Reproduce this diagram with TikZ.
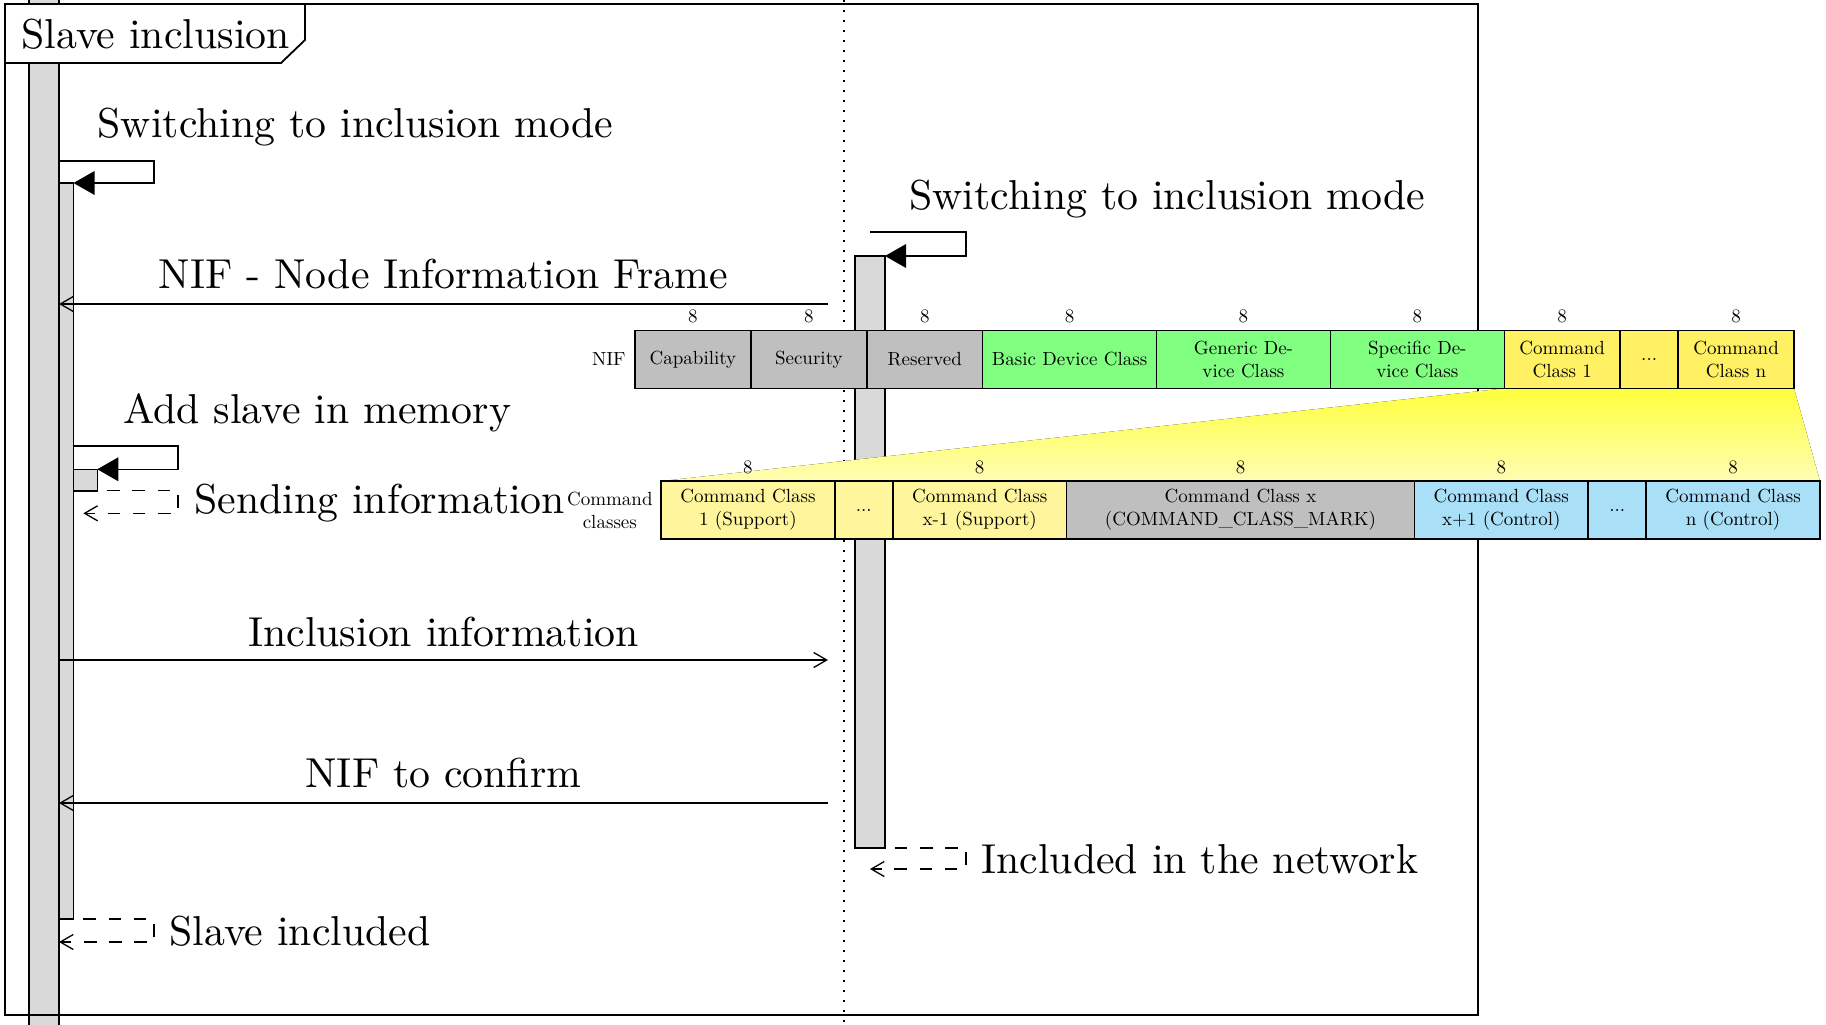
\documentclass[tikz,border=0pt]{standalone}
\usepackage{graphicx}
\usetikzlibrary{arrows.meta,calc}
\definecolor{barfill}{HTML}{D9D9D9}
\definecolor{cellgray}{HTML}{BFBFBF}
\definecolor{cellgreen}{HTML}{80FF80}
\definecolor{cellyellow}{HTML}{FFF064}
\definecolor{cellpale}{HTML}{FFF59D}
\definecolor{cellblue}{HTML}{A9DFF7}
\definecolor{gradtop}{HTML}{FFFF3C}
\definecolor{gradbot}{HTML}{FFFDB4}
\newcommand{\BigTxt}[1]{\scalebox{2.09}{#1}}
\tikzset{
  barbox/.style={draw, line width=0.75pt, fill=barfill, inner sep=0pt, outer sep=0pt},
  bigtxt/.style={inner sep=0pt, font=\fontsize{10}{12}\selectfont},
  smalltxt/.style={inner sep=0pt, font=\fontsize{9.5}{11.5}\selectfont},
  cell/.style={draw, line width=0.75pt, inner sep=0pt, outer sep=0pt, minimum height=28.9pt, align=center, anchor=west, font=\fontsize{9.5}{11.5}\selectfont},
  callarrow/.style={line width=0.75pt, -{Triangle[length=10.5pt,width=11.8pt]}},
  msgarrow/.style={line width=0.65pt, -{Straight Barb[length=6.5pt,width=7.5pt]}},
  retarrow/.style={line width=0.65pt, dash pattern=on 6.3pt off 6.3pt, dash phase=7.7pt, -{Straight Barb[length=6.5pt,width=7.5pt]}},
  lifeline/.style={line width=1pt, dash pattern=on 1pt off 4pt},
}
\begin{document}
\begin{tikzpicture}[x=0.5pt,y=-0.5pt]
\useasboundingbox (0,0) rectangle (1826,1024);
\clip (0,0) rectangle (1826,1024);
% lifelines and activations
\node[barbox, minimum width=15pt, minimum height=530pt] (thread) at (44,515) {};
\coordinate (lltop) at (843.5,-10);
\coordinate (llbot) at (843.5,1040);
\draw[lifeline] (lltop) -- (llbot);
\node[barbox, minimum width=7.25pt, minimum height=368pt] (act) at (66.25,551) {};
\node[barbox, minimum width=15pt, minimum height=296pt] (ract) at (870,552) {};
\node[barbox, minimum width=11.9pt, minimum height=10.75pt] (mem) at (85.4,480) {};
% frame
\node[draw, line width=0.9pt, inner sep=0pt, outer sep=0pt, minimum width=736.5pt, minimum height=505.5pt] (frame) at (741.5,509.5) {};
\draw[line width=0.9pt, fill=white] (5,4) -- (305,4) -- (305,40) -- (281,63) -- (5,63) -- cycle;
\node[bigtxt, anchor=base west] (title) at (21,48) {\BigTxt{Slave inclusion}};
% self call left: switching
\coordinate (c1a) at (59,161);
\coordinate (c1b) at (154,161);
\coordinate (c1c) at (154,183);
\draw[callarrow] (c1a) -- (c1b) -- (c1c) -- (act.north east);
\node[bigtxt, anchor=base west] (t1) at (97.3,137) {\BigTxt{Switching to inclusion mode}};
% self call right: switching
\coordinate (c2a) at (870,232);
\coordinate (c2b) at (966,232);
\coordinate (c2c) at (966,256);
\draw[callarrow] (c2a) -- (c2b) -- (c2c) -- (ract.north east);
\node[bigtxt, anchor=base west] (t2) at (909,209) {\BigTxt{Switching to inclusion mode}};
% NIF message
\coordinate (m1r) at (828,304);
\coordinate (m1l) at (59,304);
\draw[msgarrow] (m1r) -- (m1l);
\node[bigtxt, anchor=base] (t3) at (443.5,288) {\BigTxt{NIF - Node Information Frame}};
% add slave in memory
\coordinate (c3a) at (73.5,446);
\coordinate (c3b) at (178,446);
\coordinate (c3c) at (178,469.25);
\draw[callarrow] (c3a) -- (c3b) -- (c3c) -- (mem.north east);
\node[bigtxt, anchor=base west] (t4) at (122.6,423) {\BigTxt{Add slave in memory}};
\coordinate (r1b) at (178,490.75);
\coordinate (r1c) at (178,513.3);
\coordinate (r1d) at (83.3,513.3);
\draw[retarrow] (mem.south east) -- (r1b) -- (r1c) -- (r1d);
\node[bigtxt, anchor=base west] (t5) at (194,513) {\BigTxt{Sending information}};
% inclusion information
\coordinate (m2l) at (59,660);
\coordinate (m2r) at (828,660);
\draw[msgarrow] (m2l) -- (m2r);
\node[bigtxt, anchor=base] (t6) at (443.5,646) {\BigTxt{Inclusion information}};
% NIF to confirm
\coordinate (m3r) at (828,803);
\coordinate (m3l) at (59,803);
\draw[msgarrow] (m3r) -- (m3l);
\node[bigtxt, anchor=base] (t7) at (443.5,787) {\BigTxt{NIF to confirm}};
% included in the network
\coordinate (r2b) at (966,848);
\coordinate (r2c) at (966,869);
\coordinate (r2d) at (870,869);
\draw[retarrow] (ract.south east) -- (r2b) -- (r2c) -- (r2d);
\node[bigtxt, anchor=base west] (t8) at (981,873) {\BigTxt{Included in the network}};
% slave included
\coordinate (r3b) at (154,919);
\coordinate (r3c) at (154,942);
\coordinate (r3d) at (59,942);
\draw[retarrow] (act.south east) -- (r3b) -- (r3c) -- (r3d);
\node[bigtxt, anchor=base west] (t9) at (169,945) {\BigTxt{Slave included}};
% NIF table
\coordinate (row1) at (635,359.5);
\coordinate (row2) at (661,510);
\fill[top color=gradtop, bottom color=gradbot]
  ($(row1)+(15*57.95,28.9)$) -- ($(row1)+(20*57.95,28.9)$) --
  ($(row2)+(20*57.95,-28.9)$) -- ($(row2)+(0,-28.9)$) -- cycle;
\node[cell, fill=cellgray, minimum width=57.95pt] (n1) at (row1) {Capability};
\node[cell, fill=cellgray, minimum width=57.95pt] (n2) at (n1.east) {Security};
\node[cell, fill=cellgray, minimum width=57.95pt] (n3) at (n2.east) {Reserved};
\node[cell, fill=cellgreen, minimum width=86.925pt] (n4) at (n3.east) {Basic Device Class};
\node[cell, fill=cellgreen, minimum width=86.925pt] (n5) at (n4.east) {Generic De-\\vice Class};
\node[cell, fill=cellgreen, minimum width=86.925pt] (n6) at (n5.east) {Specific De-\\vice Class};
\node[cell, fill=cellyellow, minimum width=57.95pt] (n7) at (n6.east) {Command\\Class 1};
\node[cell, fill=cellyellow, minimum width=28.975pt] (n8) at (n7.east) {...};
\node[cell, fill=cellyellow, minimum width=57.95pt] (n9) at (n8.east) {Command\\Class n};
\node[smalltxt, anchor=east] (nifl) at ([xshift=-4.5pt]n1.west) {NIF};
\foreach \c in {n1,n2,n3,n4,n5,n6,n7,n9}
  \node[smalltxt, anchor=south] at ([yshift=3.85pt]\c.north) {8};
\node[cell, fill=cellpale, minimum width=86.925pt] (d1) at (row2) {Command Class\\1 (Support)};
\node[cell, fill=cellpale, minimum width=28.975pt] (d2) at (d1.east) {...};
\node[cell, fill=cellpale, minimum width=86.925pt] (d3) at (d2.east) {Command Class\\x-1 (Support)};
\node[cell, fill=cellgray, minimum width=173.85pt] (d4) at (d3.east) {Command Class x\\(COMMAND\_CLASS\_MARK)};
\node[cell, fill=cellblue, minimum width=86.925pt] (d5) at (d4.east) {Command Class\\x+1 (Control)};
\node[cell, fill=cellblue, minimum width=28.975pt] (d6) at (d5.east) {...};
\node[cell, fill=cellblue, minimum width=86.925pt] (d7) at (d6.east) {Command Class\\n (Control)};
\node[smalltxt, anchor=east, align=center] (ccl) at ([xshift=-4pt]d1.west) {Command\\classes};
\foreach \c in {d1,d3,d4,d5,d7}
  \node[smalltxt, anchor=south] at ([yshift=3.5pt]\c.north) {8};
\end{tikzpicture}
\end{document}
